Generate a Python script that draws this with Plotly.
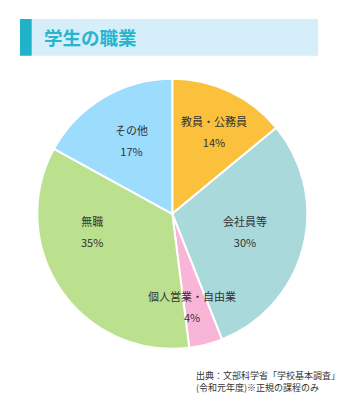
import plotly.graph_objects as go

labels = ["教員・公務員", "会社員等", "個人営業・自由業", "無職", "その他"]
values = [14, 30, 4, 35, 17]
colors = ["#fbc03c", "#aad9dc", "#f9b5d8", "#bce18e", "#9cdcfd"]

title_text = "学生の職業"
source_lines = ["出典：文部科学省「学校基本調査」", "(令和元年度)※正規の課程のみ"]

W, H = 348, 414
FONT = "Noto Sans CJK JP"

# layout: label centres in pixels (x, y from top)
label_pos_px = [(214, 131), (245, 231), (192, 306), (92, 231), (131, 141)]

fig = go.Figure(go.Pie(
    labels=labels,
    values=values,
    sort=False,
    direction="clockwise",
    rotation=0,
    marker=dict(colors=colors, line=dict(color="white", width=2)),
    textinfo="none",
    hoverinfo="label+percent",
    domain=dict(x=[37.3 / W, 307.3 / W], y=[1 - 349.3 / H, 1 - 78.3 / H]),
    showlegend=False,
))

shapes = [
    dict(type="rect", xref="paper", yref="paper", x0=20 / W, x1=318 / W,
         y0=1 - 55.7 / H, y1=1 - 19 / H, fillcolor="#d5eefa", line=dict(width=0), layer="below"),
    dict(type="rect", xref="paper", yref="paper", x0=20 / W, x1=31.7 / W,
         y0=1 - 55.7 / H, y1=1 - 19 / H, fillcolor="#1fb3c9", line=dict(width=0), layer="below"),
]

annotations = [
    dict(text="<b>" + title_text + "</b>", xref="paper", yref="paper", x=42 / W, y=1 - 37.5 / H,
         xanchor="left", yanchor="middle", showarrow=False,
         font=dict(family=FONT, size=18.5, color="#27b5cd")),
    dict(text="<br>".join(source_lines), xref="paper", yref="paper", x=194 / W,
         y=1 - 381.5 / H, xanchor="left", yanchor="middle", align="left",
         showarrow=False, font=dict(family=FONT, size=9, color="#333333")),
]

for lab, val, (px, py) in zip(labels, values, label_pos_px):
    annotations.append(dict(
        text=f"<span style='font-size:11px'>{lab}</span><br><span style='font-size:11px'>{val}%</span>",
        xref="paper", yref="paper", x=px / W, y=1 - py / H,
        xanchor="center", yanchor="middle", align="center", showarrow=False,
        font=dict(family=FONT, size=16, color="#333333"),
    ))

fig.update_layout(
    width=W, height=H,
    margin=dict(l=0, r=0, t=0, b=0),
    paper_bgcolor="white",
    plot_bgcolor="white",
    shapes=shapes,
    annotations=annotations,
)

fig.write_html("out.html")
